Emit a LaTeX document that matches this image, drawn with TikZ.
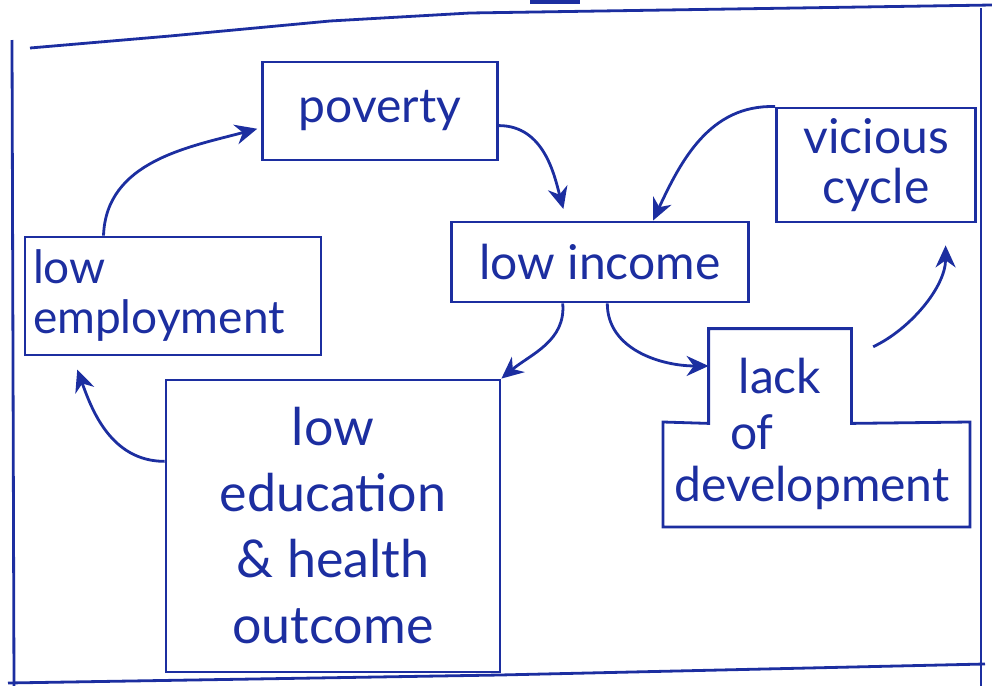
\documentclass[tikz,border=0pt]{standalone}
\usepackage{fontspec}
\setmainfont{Lato}
\usetikzlibrary{arrows.meta}
\definecolor{ink}{RGB}{28,46,160}

\begin{document}
\begin{tikzpicture}[x=0.5pt, y=-0.5pt, color=ink, line width=1.4pt,
    box/.style={draw, rectangle, inner sep=4pt, font=\fontsize{24}{26}\selectfont},
    word/.style={inner sep=1pt, font=\fontsize{24}{26}\selectfont},
    arr/.style={-{Stealth[length=11pt, width=10pt]}}]
    \useasboundingbox (0,0) rectangle (992,686);

    % outer frame
    \draw (12,40) -- (14,686);
    \draw (30,48) -- (170,36) -- (330,21) -- (470,13) -- (992,5);
    \draw (981,8) -- (981,686);
    \draw (8,683) -- (500,675) -- (985,664);
    \draw[line width=3pt] (530,1) -- (580,1);

    \node[box, minimum width=117.5pt, minimum height=49pt] (poverty) at (380,111) {poverty};
    \node[box, minimum width=148.5pt, minimum height=40pt] (income) at (600,262) {low income};
    \node[box, minimum width=99.5pt, minimum height=57pt, align=center,
          font=\fontsize{24}{25}\selectfont] (cycle) at (876,165) {vicious\\cycle};
    \node[box, minimum height=59pt, text width=140pt, align=left, inner ysep=2pt,
          font=\fontsize{23}{25}\selectfont] (employ) at (173,296) {low\\employment};
    \node[box, minimum width=167pt, minimum height=146pt, align=center,
          font=\fontsize{26}{33}\selectfont] (health) at (333,526) {low\\education\\\& health\\outcome};

    % stepped box
    \node[word, minimum width=70pt, minimum height=46pt] (lack) at (780,376) {lack};
    \node[word] (of) at (752,432) {of};
    \node[word] (devel) at (812,488) {development};
    \draw (lack.north west) -- (lack.north east) -- (lack.south east) -- (970,422)
        -- (970,527) -- (663,527) -- (663,422) -- (lack.south west) -- cycle;

    \draw[arr, shorten >=2pt] (employ.139) to[out=88, in=195] (poverty.188);
    \draw[arr, shorten >=6pt] (poverty.-7) to[out=0, in=105] (income.129);
    \draw[arr] (cycle.north west) to[out=178, in=65] (income.38);
    \draw[arr] (income.228) to[out=-85, in=40] (health.north east);
    \draw[arr] (income.-80) to[out=-90, in=180] (lack.172);
    \draw[arr, shorten <=12pt, shorten >=11pt] (lack.15) to[out=25, in=-90] (cycle.-40);
    \draw[arr, shorten >=7pt] (health.159) to[out=180, in=-70] (employ.211);
\end{tikzpicture}
\end{document}
